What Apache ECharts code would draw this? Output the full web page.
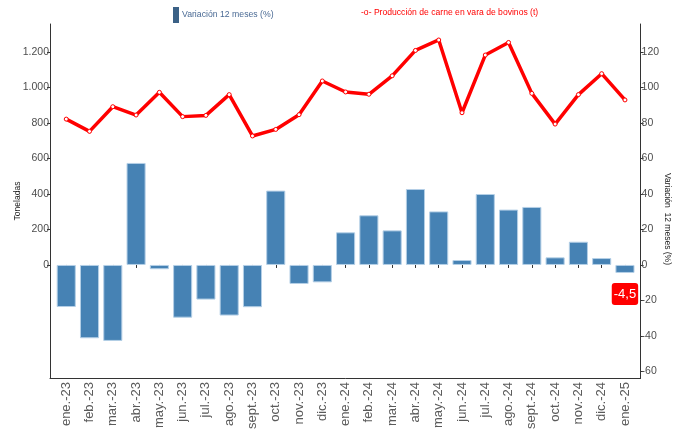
<!DOCTYPE html>
<html>
<head>
<meta charset="utf-8">
<script src="https://cdn.jsdelivr.net/npm/echarts@6/dist/echarts.min.js"></script>
<style>html,body{margin:0;padding:0;background:#fff}#c{width:678px;height:434px}</style>
</head>
<body>
<div id="c"></div>
<script>
const categories = ['ene.-23','feb.-23','mar.-23','abr.-23','may.-23','jun.-23','jul.-23','ago.-23','sept.-23','oct.-23','nov.-23','dic.-23','ene.-24','feb.-24','mar.-24','abr.-24','may.-24','jun.-24','jul.-24','ago.-24','sept.-24','oct.-24','nov.-24','dic.-24','ene.-25'];
const variacion = [-23.7,-41.3,-42.8,57.5,-2.4,-29.7,-19.5,-28.5,-23.8,41.9,-10.7,-9.8,18.4,28.0,19.5,42.8,30.2,2.8,40.0,31.2,32.7,4.3,13.1,3.9,-4.5];
const produccion = [822,753,892,845,973,836,843,960,727,764,847,1037,975,962,1066,1209,1268,858,1183,1254,967,794,960,1078,930];
const leftTicks = [0,200,400,600,800,1000,1200];
const rightTicks = [-60,-40,-20,0,20,40,60,80,100,120];

const barName = 'Variación 12 meses (%)';
const lineName = 'Producción de carne en vara de bovinos (t)';
const sans = '"Liberation Sans",Arial,sans-serif';
const axisColor = '#333';
const labelColor = '#4d4d4d';

const barData = variacion.map((v, i) => i === variacion.length - 1 ? {
  value: v,
  label: {
    show: true, position: 'bottom', distance: 10,
    formatter: p => String(p.value).replace('.', ','),
    backgroundColor: '#ff0000', color: '#fff', fontSize: 13, fontFamily: sans,
    padding: [5, 2, 4, 2], borderRadius: 3
  }
} : v);

const chart = echarts.init(document.getElementById('c'), null, {renderer: 'canvas'});
chart.setOption({
  animation: false,
  backgroundColor: '#fff',
  legend: [{
    left: 173, top: 7, padding: 0, itemWidth: 6, itemHeight: 16, itemGap: 10,
    selectedMode: false,
    data: [{name: barName, icon: 'rect', itemStyle: {color: '#3b6186', borderWidth: 0}}],
    textStyle: {color: '#4a6a94', fontSize: 8.7, fontFamily: sans, padding: [0, 0, 0, -2]}
  }, {
    left: 355, top: 8, padding: 0, itemWidth: 1, itemHeight: 10,
    selectedMode: false,
    data: [{name: lineName, icon: 'none'}],
    formatter: n => '-o- ' + n,
    textStyle: {color: '#ff0000', fontSize: 8.6, fontFamily: sans}
  }],
  grid: [
    {left: 54.6, right: 41.4, top: 24, bottom: 56, containLabel: false, outerBoundsMode: 'none'},
    {left: 50, right: 37.4, top: 24, bottom: 56, containLabel: false, outerBoundsMode: 'none'}
  ],
  xAxis: [{
    type: 'category', data: categories, gridIndex: 0,
    axisLine: {show: false},
    axisTick: {show: true, alignWithLabel: true, length: 3, lineStyle: {color: axisColor}},
    axisLabel: {rotate: 90, interval: 0, margin: 4, color: '#5a5a5a', fontSize: 13, fontFamily: sans}
  }, {
    type: 'value', gridIndex: 1, min: 0, max: 1,
    axisLine: {show: true, lineStyle: {color: axisColor, width: 1}},
    axisTick: {show: false}, axisLabel: {show: false}, splitLine: {show: false}
  }],
  yAxis: [{
    type: 'value', gridIndex: 0, position: 'left', offset: 4.6,
    min: -637, max: 1358,
    name: 'Toneladas', nameLocation: 'middle', nameGap: 28, nameMoveOverlap: false,
    nameTextStyle: {fontSize: 8.5, color: '#222', fontFamily: sans},
    axisLine: {show: true, lineStyle: {color: axisColor}},
    axisTick: {show: true, length: 3, customValues: leftTicks, lineStyle: {color: axisColor}},
    axisLabel: {customValues: leftTicks, margin: 1, color: labelColor, fontSize: 10.5, fontFamily: sans,
      formatter: v => String(v).replace(/\B(?=(\d{3})+(?!\d))/g, '.')},
    splitLine: {show: false}
  }, {
    type: 'value', gridIndex: 0, position: 'right', offset: 4,
    min: -63.7, max: 135.8,
    name: 'Variación  12 meses (%)', nameLocation: 'middle', nameGap: 22, nameRotate: -90, nameMoveOverlap: false,
    nameTextStyle: {fontSize: 8.5, color: '#222', fontFamily: sans, padding: [0, 0, 0, 36]},
    axisLine: {show: true, lineStyle: {color: axisColor}},
    axisTick: {show: true, length: 3, customValues: rightTicks, lineStyle: {color: axisColor}},
    axisLabel: {customValues: rightTicks, margin: 1, color: labelColor, fontSize: 10.5, fontFamily: sans},
    splitLine: {show: false}
  }, {
    type: 'value', gridIndex: 1, show: false, min: 0, max: 1
  }],
  series: [{
    name: barName, type: 'bar', xAxisIndex: 0, yAxisIndex: 1,
    data: barData, barCategoryGap: '18%',
    itemStyle: {color: '#4682b4', borderColor: '#b4cfe6', borderWidth: 1},
    z: 2
  }, {
    name: lineName, type: 'line', xAxisIndex: 0, yAxisIndex: 0,
    data: produccion,
    lineStyle: {color: '#ff0000', width: 3.5, join: 'round', cap: 'round'},
    symbol: 'circle', symbolSize: 4, showAllSymbol: true,
    itemStyle: {color: '#fff', borderColor: '#ff0000', borderWidth: 1},
    z: 3
  }]
});
</script>
</body>
</html>
